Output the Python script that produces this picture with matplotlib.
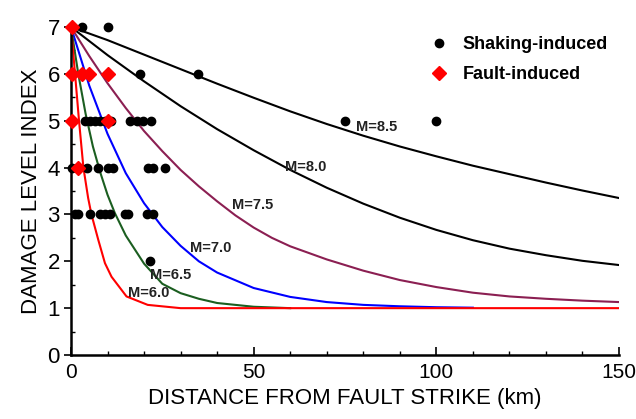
import numpy as np
import matplotlib
matplotlib.use("Agg")
import matplotlib.pyplot as plt

plt.rcParams['font.family'] = ['Liberation Sans', 'DejaVu Sans']

# damage curves (distance km, damage index)
m85_x = [0, 10, 20, 30, 40, 50, 60, 70, 80, 90, 100, 110, 120, 130, 140, 150]
m85_y = [7.0, 6.72, 6.41, 6.10, 5.79, 5.49, 5.20, 4.93, 4.68, 4.45, 4.24, 4.04, 3.86, 3.68, 3.51, 3.35]
m80_x = [0, 10, 20, 30, 40, 50, 60, 70, 80, 90, 100, 110, 120, 130, 140, 150]
m80_y = [7.0, 6.40, 5.84, 5.31, 4.82, 4.37, 3.95, 3.57, 3.23, 2.93, 2.67, 2.45, 2.27, 2.13, 2.01, 1.92]
m75_x = [0, 5, 10, 15, 20, 25, 30, 35, 40, 45, 50, 55, 60, 70, 80, 90, 100, 110, 120, 130, 140, 150]
m75_y = [7.0, 6.38, 5.80, 5.27, 4.78, 4.35, 3.95, 3.60, 3.28, 2.98, 2.72, 2.50, 2.32, 2.04, 1.80, 1.60,
         1.45, 1.33, 1.25, 1.20, 1.16, 1.13]
m70_x = [0, 5, 10, 15, 20, 25, 30, 35, 40, 50, 60, 70, 80, 90, 100, 110]
m70_y = [7.0, 5.75, 4.72, 3.88, 3.24, 2.73, 2.33, 2.00, 1.76, 1.43, 1.24, 1.13, 1.07, 1.04, 1.02, 1.01]
m65_x = [0, 2, 4, 6, 8, 10, 12, 15, 20, 25, 30, 35, 40, 50, 60]
m65_y = [7.0, 6.0, 5.15, 4.45, 3.90, 3.42, 3.03, 2.55, 1.95, 1.52, 1.32, 1.20, 1.11, 1.03, 1.0]
m60_x = [0, 1, 2.2, 3.4, 4.7, 5.6, 7.5, 9.3, 11.1, 15.2, 21, 30, 150]
m60_y = [7.0, 6.1, 5.0, 4.0, 3.35, 3.0, 2.45, 1.96, 1.67, 1.25, 1.07, 1.0, 1.0]

# observations
shake_x = [2.9, 10.0, 18.9, 34.7, 75, 100,
           3.8, 5.2, 6.6, 7.9, 9.3, 11.0, 16.1, 18.0, 19.8, 22.0,
           0.3, 4.3, 7.5, 10.2, 11.6, 21.1, 22.5, 25.7,
           1.1, 2.0, 5.2, 7.9, 9.3, 10.7, 14.8, 15.7, 20.7, 22.5,
           21.6]
shake_y = [7, 7, 6, 6, 5, 5,
           5, 5, 5, 5, 5, 5, 5, 5, 5, 5,
           4, 4, 4, 4, 4, 4, 4, 4,
           3, 3, 3, 3, 3, 3, 3, 3, 3, 3,
           2]
fault_x = [0.2, 0.2, 3.0, 5.0, 10.2, 0.2, 10.2, 2.0]
fault_y = [7, 6, 6, 6, 6, 5, 5, 4]

curves = [(m85_x, m85_y, 'black', 'M=8.5', 78, 4.87),
          (m80_x, m80_y, 'black', 'M=8.0', 58.5, 4.02),
          (m75_x, m75_y, '#8b1f52', 'M=7.5', 44, 3.2),
          (m70_x, m70_y, '#0000ff', 'M=7.0', 32.5, 2.28),
          (m65_x, m65_y, '#1b5e20', 'M=6.5', 21.6, 1.71),
          (m60_x, m60_y, '#ff0000', 'M=6.0', 15.7, 1.32)]

fig = plt.figure(figsize=(6.36, 4.19), dpi=100)
ax = fig.add_axes([0.1116, 0.1527, 0.8617, 0.7829])

for cx, cy, col, lab, tx, ty in curves:
    ax.plot(cx, cy, color=col, lw=1.5, zorder=2)
    ax.text(tx, ty, lab, fontsize=10.5, fontweight='bold', color='#222222',
            ha='left', va='center', zorder=5)

ax.plot(shake_x, shake_y, 'o', color='black', ms=6, ls='none', zorder=3,
        clip_on=False, label='Shaking-induced')
ax.plot(fault_x, fault_y, 'D', color='#ff0000', ms=7, ls='none', zorder=4,
        clip_on=False, label='Fault-induced')

ax.set_xlim(0, 150)
ax.set_ylim(0, 7)
ax.set_xticks([0, 50, 100, 150])
ax.set_xticks(np.arange(0, 151, 10), minor=True)
ax.set_yticks(range(8))
ax.set_yticks(np.arange(0, 7.01, 0.5), minor=True)
ax.tick_params(axis='x', which='major', direction='in', length=6, width=1.2, labelsize=15, pad=6)
ax.tick_params(axis='x', which='minor', direction='in', length=3, width=1.0)
ax.tick_params(axis='y', which='major', direction='out', length=5, width=1.2, labelsize=16, pad=3)
ax.tick_params(axis='y', which='minor', direction='in', length=3, width=1.0)
for s in ['top', 'right']:
    ax.spines[s].set_visible(False)
for s in ['left', 'bottom']:
    ax.spines[s].set_linewidth(1.8)
ax.set_xlabel('DISTANCE FROM FAULT STRIKE (km)', fontsize=16, labelpad=4)
ax.set_ylabel('DAMAGE LEVEL INDEX', fontsize=16, labelpad=4)

ax.legend(loc='upper left', bbox_to_anchor=(0.676, 0.913), bbox_transform=fig.transFigure,
          frameon=False, numpoints=1, handlelength=1.0, handletextpad=0.8,
          borderpad=0, borderaxespad=0, labelspacing=0.7,
          prop={'weight': 'bold', 'size': 13})

fig.savefig('out.png', dpi=100)
